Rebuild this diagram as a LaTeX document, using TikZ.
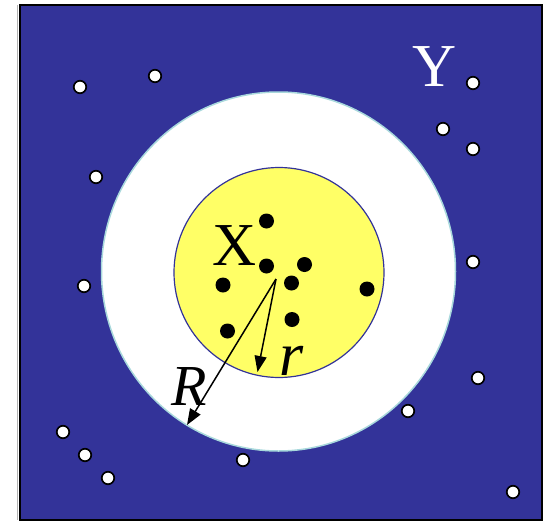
\documentclass[tikz,border=0pt]{standalone}
\usepackage{fontspec}
\setmainfont{Liberation Serif}
\usetikzlibrary{arrows.meta}
\definecolor{bgblue}{HTML}{333399}
\definecolor{ylw}{HTML}{FFFF66}
\definecolor{ringedge}{HTML}{A8D8DC}
\tikzset{
  wdot/.style={circle,draw=black,fill=white,line width=1.7pt,inner sep=0pt,minimum size=12.5pt},
  bdot/.style={circle,fill=black,inner sep=0pt,minimum size=15pt},
  biglabel/.style={inner sep=0pt,font=\fontsize{61}{61}\selectfont},
  radarrow/.style={line width=1.5pt,-{Triangle[length=16pt,width=12pt]}}
}
\begin{document}
\begin{tikzpicture}[x=1pt,y=-1pt]
\useasboundingbox (0,0) rectangle (552,520);
% background square
\draw[gray!60,line width=1pt] (17.5,5) -- (17.5,520);
\draw[black,line width=2pt,fill=bgblue] (19.5,5) rectangle (542,519.5);
% outer ring and inner disc
\draw[ringedge,line width=1.5pt,fill=white] (278.5,271.5) ellipse [x radius=177, y radius=179.5];
\draw[bgblue,line width=1.2pt,fill=ylw] (279,272.5) circle [radius=105];
% labels
\node[biglabel,anchor=base,text=white] (Y) at (435,86) {Y};
\node[biglabel,anchor=base] (X) at (235,265) {X};
% black points
\node[bdot] (b1) at (266.5,221) {};
\node[bdot] (b2) at (266.5,266) {};
\node[bdot] (b3) at (304.5,264.5) {};
\node[bdot] (b4) at (291.5,283) {};
\node[bdot] (b5) at (223,285) {};
\node[bdot] (b6) at (367,289) {};
\node[bdot] (b7) at (292,319.5) {};
\node[bdot] (b8) at (227.5,331) {};
% white points
\node[wdot] (w1) at (80,87) {};
\node[wdot] (w2) at (155,76) {};
\node[wdot] (w3) at (473,83) {};
\node[wdot] (w4) at (443,129) {};
\node[wdot] (w5) at (473,149) {};
\node[wdot] (w6) at (96,177) {};
\node[wdot] (w7) at (473,262) {};
\node[wdot] (w8) at (84,286) {};
\node[wdot] (w9) at (478,378) {};
\node[wdot] (w10) at (408,411) {};
\node[wdot] (w11) at (243,460) {};
\node[wdot] (w12) at (63,432) {};
\node[wdot] (w13) at (85,455) {};
\node[wdot] (w14) at (108,478) {};
\node[wdot] (w15) at (513,492) {};
% radii
\coordinate (c) at (276,279);
\coordinate (rend) at (257.5,372);
\coordinate (Rend) at (187,425);
\draw[radarrow] (c) -- (rend);
\draw[radarrow] (c) -- (Rend);
\node[biglabel,anchor=base,font=\fontsize{62}{62}\selectfont\itshape] (r) at (292,375) {r};
\node[biglabel,anchor=base,font=\fontsize{58}{58}\selectfont\itshape] (R) at (189,405) {R};
\end{tikzpicture}
\end{document}
